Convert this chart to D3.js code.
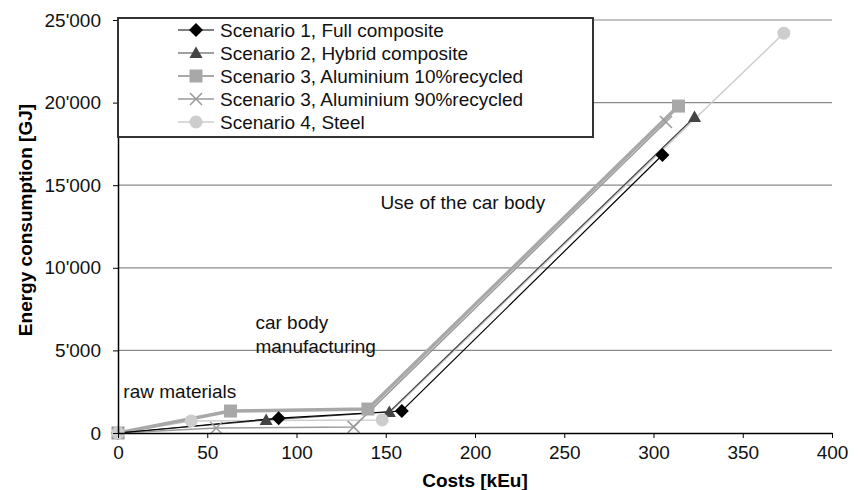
<!DOCTYPE html>
<html>
<head>
<meta charset="utf-8">
<script src="https://cdn.jsdelivr.net/npm/d3@7"></script>
<style>
  body { margin: 0; background: #fff; }
  text { font-family: "Liberation Sans", Arial, sans-serif; }
</style>
</head>
<body>
<script>
// values
const seriesNames = [
  "Scenario 1, Full composite",
  "Scenario 2, Hybrid composite",
  "Scenario 3, Aluminium 10%recycled",
  "Scenario 3, Aluminium 90%recycled",
  "Scenario 4, Steel"
];
const costs1 = [0, 90, 159, 305];
const energy1 = [0, 900, 1330, 16830];
const costs2 = [0, 83, 152, 323];
const energy2 = [0, 790, 1270, 19130];
const costs3a = [0, 63, 140, 314];
const energy3a = [0, 1330, 1450, 19790];
const costs3b = [0, 55, 132, 307];
const energy3b = [0, 300, 370, 18830];
const costs4 = [0, 41, 148, 373];
const energy4 = [0, 730, 790, 24200];
const xTicks = [0, 50, 100, 150, 200, 250, 300, 350, 400];
const yTicks = [0, 5000, 10000, 15000, 20000, 25000];
const notes = [
  { lines: ["raw materials"], cost: 3, energy: 2100 },
  { lines: ["car body", "manufacturing"], cost: 77, energy: 6300 },
  { lines: ["Use of the car body"], cost: 147, energy: 13550 }
];

let margin = null, width = null, height = null;
let svg = null;
let x, y = null;

const styles = [
  { color: "#000", width: 1.2, shape: "diamond" },
  { color: "#444", width: 1.2, shape: "triangle" },
  { color: "#a8a8a8", width: 3.5, shape: "square" },
  { color: "#9a9a9a", width: 1.5, shape: "cross" },
  { color: "#cdcdcd", width: 1.5, shape: "circle" }
];

main();

function main() {
  setupCanvasSize();
  appendSvg("body");
  setupScales();
  appendGrid();
  appendLines();
  appendAxes();
  appendLegend();
  appendNotes();
}

function setupCanvasSize() {
  margin = { top: 20, left: 118, bottom: 57, right: 28 };
  width = 860 - margin.left - margin.right;
  height = 490 - margin.top - margin.bottom;
}

function appendSvg(domElement) {
  svg = d3.select(domElement).append("svg")
    .attr("width", width + margin.left + margin.right)
    .attr("height", height + margin.top + margin.bottom)
    .append("g")
    .attr("transform", `translate(${margin.left}, ${margin.top})`);
}

function setupScales() {
  x = d3.scaleLinear().domain([0, 400]).range([0, width]);
  y = d3.scaleLinear().domain([0, 25000]).range([height, 0]);
}

function appendGrid() {
  svg.append("g")
    .selectAll("line")
    .data(yTicks.filter(d => d > 0))
    .enter()
    .append("line")
    .attr("x1", 0)
    .attr("x2", width)
    .attr("y1", d => y(d))
    .attr("y2", d => y(d))
    .attr("stroke", "#8a8a8a")
    .attr("stroke-width", 1.2);
}

function seriesData() {
  const cs = [costs1, costs2, costs3a, costs3b, costs4];
  const es = [energy1, energy2, energy3a, energy3b, energy4];
  return seriesNames.map((name, i) => ({
    name: name,
    style: styles[i],
    points: cs[i].map((c, j) => ({ cost: c, energy: es[i][j] }))
  }));
}

function drawMarker(g, shape, color) {
  if (shape === "diamond") {
    g.append("path").attr("d", "M0,-7L7,0L0,7L-7,0Z").attr("fill", color);
  } else if (shape === "triangle") {
    g.append("path").attr("d", "M0,-6.5L6.5,5L-6.5,5Z").attr("fill", color);
  } else if (shape === "square") {
    g.append("rect").attr("x", -6.5).attr("y", -6.5).attr("width", 13).attr("height", 13).attr("fill", color);
  } else if (shape === "cross") {
    g.append("path").attr("d", "M-6,-6L6,6M-6,6L6,-6").attr("stroke", color).attr("stroke-width", 1.5).attr("fill", "none");
  } else {
    g.append("circle").attr("r", 6.5).attr("fill", color);
  }
}

function appendLines() {
  const line = d3.line()
    .x(d => x(d.cost))
    .y(d => y(d.energy));
  const data = seriesData();
  const order = [4, 3, 2, 1, 0];
  order.forEach(i => {
    const s = data[i];
    svg.append("path")
      .datum(s.points)
      .attr("fill", "none")
      .attr("stroke", s.style.color)
      .attr("stroke-width", s.style.width)
      .attr("d", line);
  });
  [0, 1, 2, 3, 4].forEach(i => {
    const s = data[i];
    s.points.forEach(p => {
      const g = svg.append("g").attr("transform", `translate(${x(p.cost)}, ${y(p.energy)})`);
      drawMarker(g, s.style.shape, s.style.color);
    });
  });
}

function appendAxes() {
  const loc = d3.formatLocale({ decimal: ".", thousands: "'", grouping: [3], currency: ["", ""] });
  const fmt = loc.format(",");

  const xa = svg.append("g")
    .attr("transform", `translate(0, ${height})`)
    .call(d3.axisBottom(x).tickValues(xTicks).tickSize(5).tickPadding(8).tickSizeOuter(0));
  xa.selectAll("text").style("font-size", "19px").attr("fill", "#111");
  xa.select(".domain").attr("stroke-width", 1.5);

  const ya = svg.append("g")
    .call(d3.axisLeft(y).tickValues(yTicks).tickFormat(fmt).tickSize(5).tickPadding(12).tickSizeOuter(0));
  ya.selectAll("text").style("font-size", "19px").attr("fill", "#111");
  ya.select(".domain").attr("stroke-width", 1.5);

  svg.append("text")
    .attr("x", width / 2)
    .attr("y", height + 54)
    .attr("text-anchor", "middle")
    .style("font-size", "19px")
    .style("font-weight", "bold")
    .text("Costs [kEu]");

  svg.append("text")
    .attr("transform", `translate(${-86}, ${200}) rotate(-90)`)
    .attr("text-anchor", "middle")
    .style("font-size", "19px")
    .style("font-weight", "bold")
    .text("Energy consumption [GJ]");
}

function appendLegend() {
  const lg = svg.append("g").attr("transform", "translate(0, -2)");
  lg.append("rect")
    .attr("x", 0)
    .attr("y", 0)
    .attr("width", 475)
    .attr("height", 119)
    .attr("fill", "#fff")
    .attr("stroke", "#333")
    .attr("stroke-width", 2);
  seriesData().forEach((s, i) => {
    const row = lg.append("g").attr("transform", `translate(0, ${12 + i * 23})`);
    row.append("line")
      .attr("x1", 60).attr("x2", 96)
      .attr("stroke", s.style.color)
      .attr("stroke-width", Math.min(s.style.width, 2));
    const m = row.append("g").attr("transform", "translate(78, 0)");
    drawMarker(m, s.style.shape, s.style.color);
    row.append("text")
      .attr("x", 102)
      .attr("dy", "0.35em")
      .style("font-size", "19px")
      .attr("fill", "#111")
      .text(s.name);
  });
}

function appendNotes() {
  notes.forEach(n => {
    const t = svg.append("text")
      .attr("x", x(n.cost))
      .attr("y", y(n.energy))
      .style("font-size", "19px")
      .attr("fill", "#111");
    n.lines.forEach((l, i) => {
      t.append("tspan").attr("x", x(n.cost)).attr("dy", i === 0 ? 0 : 24).text(l);
    });
  });
}
</script>
</body>
</html>
